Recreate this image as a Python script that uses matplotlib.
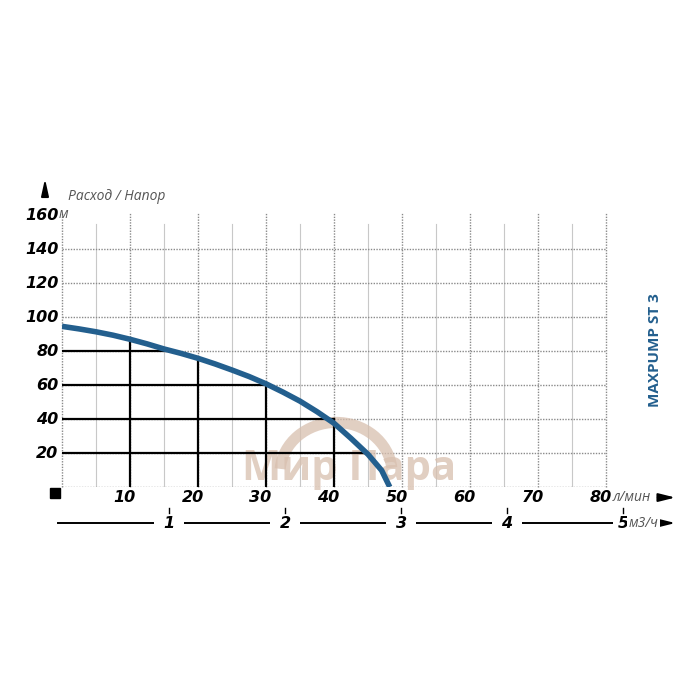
import matplotlib
matplotlib.use("Agg")
import matplotlib.pyplot as plt
from matplotlib.patches import Rectangle, Arc

# Кривая насоса (л/мин -> м)
flow = [0, 2.5, 5, 7.5, 10, 12.5, 15, 17.5, 20, 22.5, 25, 27.5, 30, 32.5, 35, 37.5, 40, 42.5, 45, 47, 48.2]
head = [94.5, 93.0, 91.3, 89.3, 86.9, 84.2, 81.2, 78.6, 75.7, 72.4, 68.8, 65.0, 60.7, 55.8, 50.5, 44.3, 37.5, 28.6, 19.2, 9.8, 0]

# опорные линии (уровень, до какого расхода) и (расход, до какого напора)
guide_h = [(80, 16), (60, 30), (40, 40), (20, 44.5)]
guide_v = [(10, 87), (20, 76), (30, 61), (40, 40)]

y_ticks = [20, 40, 60, 80, 100, 120, 140, 160]
x_ticks = [10, 20, 30, 40, 50, 60, 70, 80]
m3h_labels = ["1", "2", "3", "4", "5"]
m3h_pos = [15.7, 32.8, 49.9, 65.4, 82.5]

blue = "#235f8e"
fam = ["Open Sans", "DejaVu Sans"]
wm = "#d8bfae"

fig = plt.figure(figsize=(7, 7), dpi=100)
ax = fig.add_axes([62 / 700, 1 - 487 / 700, 544 / 700, 272 / 700])
ax.set_xlim(0, 80)
ax.set_ylim(0, 160)
ax.axis("off")

# сетка
for x in range(5, 80, 10):
    ax.plot([x, x], [0, 155], color="#c8c8c8", lw=0.8, zorder=1)
for x in range(0, 81, 10):
    ax.plot([x, x], [0, 161.5], color="#8a8a8a", lw=1.0, ls=(0, (1, 1)), zorder=1, clip_on=False)
for y in range(0, 141, 20):
    ax.plot([0, 80], [y, y], color="#8a8a8a", lw=1.0, ls=(0, (1, 1)), zorder=1)

# водяной знак
ax.add_patch(Arc((40.3, 8), 16.5, 60, theta1=22, theta2=162, color=wm,
                 lw=8, alpha=0.75, zorder=2, clip_on=False))
ax.text(42.2, 10.5, "Мир Пара", fontsize=30, fontweight="bold", color=wm,
        alpha=0.75, ha="center", va="center", family=fam, zorder=2)

# черные линии
for y, xe in guide_h:
    ax.plot([0, xe], [y, y], color="black", lw=1.6, zorder=3)
for x, ye in guide_v:
    ax.plot([x, x], [0, ye], color="black", lw=1.6, zorder=3)

ax.plot(flow, head, color=blue, lw=4, zorder=4, solid_capstyle="butt",
        solid_joinstyle="round")

tk = dict(fontsize=11.5, fontweight="bold", style="italic", family="DejaVu Sans", color="black")
sm = dict(fontsize=10, style="italic", color="#555555", family=fam)

# ось Y
for y in y_ticks:
    ax.text(-0.5, y, str(y), ha="right", va="center", **tk)
ax.text(-0.5, 160, "м", ha="left", va="center", **sm)
ax.annotate("", xy=(-2.5, 183), xytext=(-2.5, 170), annotation_clip=False,
            arrowprops=dict(arrowstyle="-|>,head_width=0.22,head_length=1.0",
                            color="black", lw=1.4))
ax.text(0.9, 171, "Расход / Напор", ha="left", va="center", **sm)

# ось X (л/мин)
ax.add_patch(Rectangle((-1.8, -6.6), 1.5, 5.9, color="black", clip_on=False))
for x in x_ticks:
    ax.text(x - 0.8, -6.2, str(x), ha="center", va="center", **tk)
ax.text(80.9, -6.2, "л/мин", ha="left", va="center", **sm)
ax.annotate("", xy=(90.6, -6.2), xytext=(87.2, -6.2), annotation_clip=False,
            arrowprops=dict(arrowstyle="-|>,head_width=0.25,head_length=1.0",
                            color="black", lw=1.4))

# ось X (м3/ч)
yb = -21.2
ax.plot([-0.6, 88], [yb, yb], color="black", lw=1.4, clip_on=False, zorder=1)
ax.annotate("", xy=(90.6, yb), xytext=(87.6, yb), annotation_clip=False,
            arrowprops=dict(arrowstyle="-|>,head_width=0.25,head_length=1.0",
                            color="black", lw=1.4))
for lab, p in zip(m3h_labels, m3h_pos):
    ax.plot([p, p], [-12.6, -15.0], color="black", lw=1.0, clip_on=False, zorder=5)
    if lab == "5":
        ax.text(p, yb, lab, ha="center", va="center", zorder=3,
                bbox=dict(boxstyle="square,pad=0.3", fc="white", ec="none"), **tk)
        ax.text(p + 0.8, yb, "м3/ч", ha="left", va="center", zorder=3,
                bbox=dict(boxstyle="square,pad=0.1", fc="white", ec="none"), **sm)
    else:
        ax.text(p, yb, lab, ha="center", va="center", zorder=3,
                bbox=dict(boxstyle="square,pad=0.6", fc="white", ec="none"), **tk)

ax.text(87.2, 80.6, "MAXPUMP ST 3", rotation=90, ha="center", va="center",
        fontsize=11, fontweight="bold", color=blue, family=fam)

fig.savefig("out.png", dpi=100, facecolor="white")
